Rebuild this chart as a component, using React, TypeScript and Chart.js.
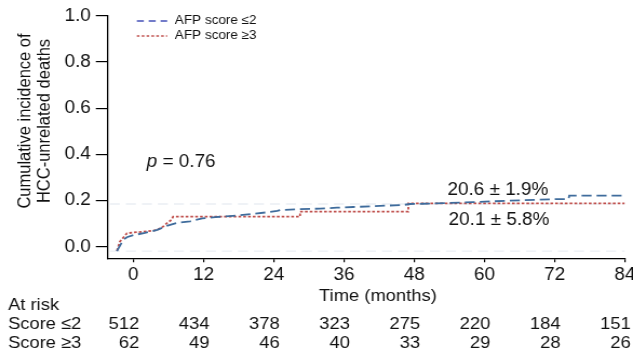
import React, { useEffect, useRef } from "react";
import { Chart, registerables } from "chart.js";

Chart.register(...registerables);

// The reference figure is slightly horizontally stretched; draw narrower and stretch the bitmap.
const OUT_W = 633;
const OUT_H = 354;
const STRETCH = 1.08;
const IN_W = Math.round(OUT_W / STRETCH);
const ix = (v: number) => v / STRETCH; // image x -> internal x

const FONT = '"Liberation Sans", Arial, Helvetica, sans-serif';

// ---- data ----
const xTicks = [0, 12, 24, 36, 48, 60, 72, 84];
const yTicks = [0, 0.2, 0.4, 0.6, 0.8, 1.0];

const lowTime = [-2.8, -1.7, -1.1, 0, 2, 4.1, 5.7, 7.6, 9.7, 11.8, 14, 17, 20, 22.8, 24.6, 25.2, 28.5, 31.9, 34.8, 37.6, 40.5, 43.3, 46.2, 47.3, 49.6, 54.1, 58.1, 63.8, 72.4, 74.4, 74.5, 84];
const lowValue = [-0.019, 0.03, 0.041, 0.05, 0.06, 0.073, 0.09, 0.104, 0.11, 0.123, 0.128, 0.134, 0.141, 0.149, 0.155, 0.159, 0.163, 0.165, 0.169, 0.172, 0.175, 0.178, 0.181, 0.185, 0.186, 0.19, 0.193, 0.199, 0.206, 0.206, 0.221, 0.221];

const highTime = [-2.8, -2.3, -1.1, 0, 1.7, 4, 5.1, 5.7, 6.5, 6.8, 28.5, 28.5, 47, 47, 84];
const highValue = [-0.017, 0.022, 0.058, 0.062, 0.065, 0.072, 0.087, 0.101, 0.116, 0.13, 0.13, 0.152, 0.152, 0.188, 0.188];

const refLineValues = [0.185, -0.019];
const refLineSpan = [-4, 84];

const seriesLabels = ["AFP score ≤2", "AFP score ≥3"];
const finalLabels = ["20.6 ± 1.9%", "20.1 ± 5.8%"];
const pValue = "0.76";
const yTitle = ["Cumulative incidence of", "HCC-unrelated deaths"];
const xTitle = "Time (months)";
const riskHeader = "At risk";
const riskRowLabels = ["Score ≤2", "Score ≥3"];
const riskLow = [512, 434, 378, 323, 275, 220, 184, 151];
const riskHigh = [62, 49, 46, 40, 33, 29, 28, 26];

const LOW_COLOR = "#3f6c9c";
const LOW_LEGEND = "#4450b8";
const HIGH_COLOR = "#c0504d";
const REF_COLOR = "rgba(222,229,238,0.65)";
const TEXT_COLOR = "#111";

const toPts = (xs: number[], ys: number[]) => xs.map((t, i) => ({ x: t, y: ys[i] }));

const overlayPlugin = {
  id: "overlay",
  afterDraw(chart: any) {
    const { ctx } = chart;
    const x = chart.scales.x;
    const y = chart.scales.y;
    ctx.save();
    ctx.fillStyle = TEXT_COLOR;

    // y-axis title (two rotated lines)
    ctx.font = `16.5px ${FONT}`;
    ctx.textAlign = "center";
    ctx.textBaseline = "middle";
    const titleCy = 121;
    [ix(25), ix(45)].forEach((px, i) => {
      ctx.save();
      ctx.translate(px, titleCy);
      ctx.rotate(-Math.PI / 2);
      ctx.fillText(yTitle[i], 0, 0);
      ctx.restore();
    });

    // legend
    const legY = [y.getPixelForValue(0.977), y.getPixelForValue(0.912)];
    const lx0 = x.getPixelForValue(0.6);
    const lx1 = x.getPixelForValue(5.8);
    const ltx = x.getPixelForValue(7.1);
    ctx.lineWidth = 1.6;
    ctx.strokeStyle = LOW_LEGEND;
    ctx.setLineDash([6.5, 4.5]);
    ctx.beginPath();
    ctx.moveTo(lx0, legY[0]);
    ctx.lineTo(lx1, legY[0]);
    ctx.stroke();
    ctx.strokeStyle = HIGH_COLOR;
    ctx.setLineDash([2.5, 2]);
    ctx.beginPath();
    ctx.moveTo(lx0, legY[1]);
    ctx.lineTo(lx1, legY[1]);
    ctx.stroke();
    ctx.setLineDash([]);
    ctx.font = `12.5px ${FONT}`;
    ctx.textAlign = "left";
    ctx.textBaseline = "middle";
    ctx.fillText(seriesLabels[0], ltx, legY[0]);
    ctx.fillText(seriesLabels[1], ltx, legY[1]);

    // p value
    const px = x.getPixelForValue(2.3);
    const py = y.getPixelForValue(0.368);
    ctx.font = `italic 17.5px ${FONT}`;
    ctx.fillText("p", px, py);
    const pw = ctx.measureText("p").width;
    ctx.font = `17.5px ${FONT}`;
    ctx.fillText(` = ${pValue}`, px + pw, py);

    // final estimates
    ctx.textAlign = "center";
    ctx.font = `17.5px ${FONT}`;
    ctx.fillText(finalLabels[0], x.getPixelForValue(62.3), y.getPixelForValue(0.247));
    ctx.fillText(finalLabels[1], x.getPixelForValue(62.5), y.getPixelForValue(0.113));

    // x title
    ctx.font = `17px ${FONT}`;
    ctx.textBaseline = "alphabetic";
    ctx.textAlign = "center";
    ctx.fillText(xTitle, x.getPixelForValue(41.8), 301);

    // at-risk table
    ctx.textAlign = "left";
    ctx.fillText(riskHeader, ix(8), 310);
    ctx.fillText(riskRowLabels[0], ix(8), 328.5);
    ctx.fillText(riskRowLabels[1], ix(8), 347.5);
    ctx.textAlign = "right";
    xTicks.forEach((t, i) => {
      const cx = x.getPixelForValue(t) + ix(6);
      ctx.fillText(String(riskLow[i]), cx, 328.5);
      ctx.fillText(String(riskHigh[i]), cx, 347.5);
    });
    ctx.restore();
  },
};

export default function App() {
  const ref = useRef<HTMLCanvasElement | null>(null);

  useEffect(() => {
    if (!ref.current) return;
    const refDatasets = refLineValues.map((v) => ({
      label: "ref",
      data: refLineSpan.map((t) => ({ x: t, y: v })),
      borderColor: REF_COLOR,
      borderWidth: 1.3,
      borderDash: [ix(10), ix(6)],
      pointRadius: 0,
      fill: false,
    }));
    const chart = new Chart(ref.current, {
      type: "line",
      data: {
        datasets: [
          {
            label: seriesLabels[0],
            data: toPts(lowTime, lowValue),
            borderColor: LOW_COLOR,
            borderWidth: 1.8,
            borderDash: [ix(10), ix(5)],
            pointRadius: 0,
            tension: 0,
            fill: false,
          },
          {
            label: seriesLabels[1],
            data: toPts(highTime, highValue),
            borderColor: HIGH_COLOR,
            borderWidth: 1.8,
            borderDash: [ix(2.8), ix(2)],
            pointRadius: 0,
            tension: 0,
            fill: false,
          },
          ...refDatasets,
        ],
      },
      options: {
        responsive: false,
        maintainAspectRatio: false,
        devicePixelRatio: 1,
        animation: false,
        events: [],
        layout: { padding: { left: 0, right: IN_W - ix(624.7), top: 15.7, bottom: 0 } },
        plugins: {
          legend: { display: false },
          tooltip: { enabled: false },
          title: { display: false },
        },
        scales: {
          x: {
            type: "linear",
            min: -4.44,
            max: 84,
            afterBuildTicks: (s: any) => {
              s.ticks = xTicks.map((v) => ({ value: v }));
            },
            afterFit: (s: any) => {
              s.height = 95.7;
              s.paddingLeft = 0;
              s.paddingRight = 0;
            },
            grid: {
              display: true,
              drawOnChartArea: false,
              drawTicks: true,
              tickLength: 4,
              color: "#000",
              lineWidth: 1.2,
            },
            border: { display: true, color: "#000", width: 1.3 },
            ticks: {
              color: TEXT_COLOR,
              font: { family: FONT, size: 17.5 },
              padding: 2,
              maxRotation: 0,
              autoSkip: false,
              callback: (v: any) => String(v),
            },
          },
          y: {
            type: "linear",
            min: -0.05,
            max: 1.0,
            afterBuildTicks: (s: any) => {
              s.ticks = yTicks.map((v) => ({ value: v }));
            },
            afterFit: (s: any) => {
              s.width = ix(107.3);
              s.paddingTop = 0;
              s.paddingBottom = 0;
            },
            grid: {
              display: true,
              drawOnChartArea: false,
              drawTicks: true,
              tickLength: ix(11.5),
              color: "#000",
              lineWidth: 1.2,
            },
            border: { display: true, color: "#000", width: 1.3 },
            ticks: {
              color: TEXT_COLOR,
              font: { family: FONT, size: 17.5 },
              padding: ix(5),
              autoSkip: false,
              callback: (v: any) => Number(v).toFixed(1),
            },
          },
        },
      },
      plugins: [overlayPlugin],
    });
    return () => chart.destroy();
  }, []);

  return (
    <div
      style={{
        position: "absolute",
        left: 0,
        top: 0,
        width: OUT_W,
        height: OUT_H,
        overflow: "hidden",
        background: "#fff",
      }}
    >
      <canvas
        ref={ref}
        width={IN_W}
        height={OUT_H}
        style={{ width: `${OUT_W}px`, height: `${OUT_H}px`, display: "block" }}
      />
    </div>
  );
}
